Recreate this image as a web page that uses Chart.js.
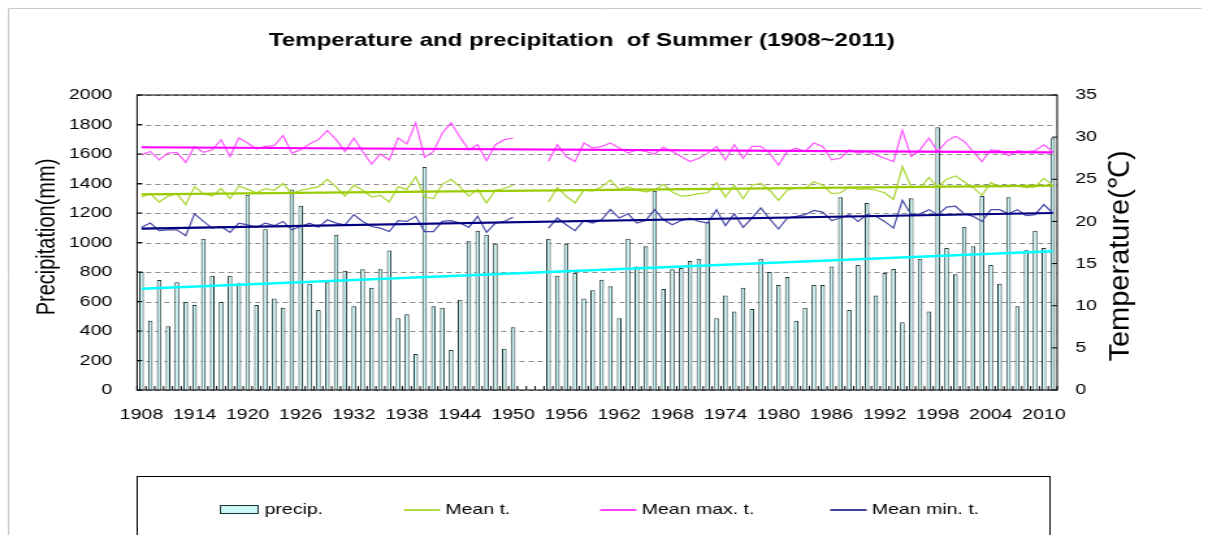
<!DOCTYPE html>
<html>
<head>
<meta charset="utf-8">
<script src="https://cdn.jsdelivr.net/npm/chart.js@4.4.1/dist/chart.umd.min.js"></script>
<style>
html,body{margin:0;padding:0;background:#fff;overflow:hidden}
/* la figura original viene estirada en horizontal */
#wrap{width:929px;height:535px;transform:scaleX(1.3003);transform-origin:0 0}
</style>
</head>
<body>
<div id="wrap"><canvas id="grafica" width="929" height="535"></canvas></div>
<script>
// DATOS
const anios = [
 1908,1909,1910,1911,1912,1913,1914,1915,1916,1917,1918,1919,1920,1921,1922,1923,1924,1925,1926,1927,
 1928,1929,1930,1931,1932,1933,1934,1935,1936,1937,1938,1939,1940,1941,1942,1943,1944,1945,1946,1947,
 1948,1949,1950,1951,1952,1953,1954,1955,1956,1957,1958,1959,1960,1961,1962,1963,1964,1965,1966,1967,
 1968,1969,1970,1971,1972,1973,1974,1975,1976,1977,1978,1979,1980,1981,1982,1983,1984,1985,1986,1987,
 1988,1989,1990,1991,1992,1993,1994,1995,1996,1997,1998,1999,2000,2001,2002,2003,2004,2005,2006,2007,
 2008,2009,2010,2011
].map(String)

const precip = [
 800,470,746,432,730,597,576,1026,775,597,775,723,1324,576,1089,621,558,1360,1250,721,
 542,730,1053,809,567,818,694,818,945,486,513,244,1512,567,558,271,612,1008,1080,1053,
 992,280,425,null,null,null,1026,775,992,793,621,676,748,703,486,1026,838,974,1351,685,
 818,827,875,890,1141,486,640,533,694,549,890,800,712,766,470,558,712,712,838,1306,
 542,848,1268,640,793,820,459,1300,890,533,1781,963,784,1107,974,1315,848,721,1306,567,
 947,1080,963,1706
]

const tmedia = [
 22.9,23.3,22.3,23.0,23.3,22.0,24.1,23.3,23.0,23.9,22.7,24.2,23.8,23.4,23.9,23.7,24.5,23.3,23.7,23.9,
 24.1,25.0,24.1,23.0,24.3,23.7,22.9,23.1,22.3,24.1,23.8,25.3,22.9,22.7,24.4,25.0,24.1,23.0,23.8,22.2,
 23.7,23.9,24.3,null,null,null,22.3,24.0,23.0,22.2,23.7,23.6,24.1,24.9,23.8,24.1,23.7,23.5,23.7,24.4,
 23.5,23.0,23.1,23.3,23.4,24.6,22.9,24.3,22.7,24.3,24.5,23.7,22.5,23.7,24.0,23.9,24.7,24.3,23.3,23.4,
 24.1,23.8,23.9,23.7,23.4,22.6,26.5,24.1,24.0,25.2,24.1,25.0,25.4,24.7,24.0,23.1,24.6,24.1,24.3,24.2,
 24.0,24.1,25.1,24.3
]

const tmax = [
 27.9,28.3,27.3,28.1,28.2,27.0,28.9,28.2,28.5,29.7,27.7,29.9,29.3,28.6,28.9,29.0,30.2,28.1,28.5,29.2,
 29.7,30.8,29.7,28.3,29.9,28.3,26.8,28.0,27.3,29.9,29.2,31.7,27.6,28.3,30.5,31.7,30.0,28.5,29.1,27.2,
 29.1,29.7,29.9,null,null,null,27.1,29.1,27.7,27.1,29.3,28.7,28.9,29.3,28.7,28.1,28.5,28.3,28.0,28.8,
 28.3,27.7,27.1,27.5,28.1,28.9,27.3,29.1,27.5,28.9,28.9,28.1,26.7,28.3,28.7,28.3,29.3,28.9,27.3,27.5,
 28.5,28.1,28.3,27.9,27.5,27.1,30.8,27.7,28.5,29.9,28.3,29.5,30.1,29.5,28.3,27.1,28.5,28.4,27.8,28.4,
 28.3,28.4,29.1,28.3
]

const tmin = [
 19.3,19.8,18.9,19.0,19.0,18.3,20.9,20.0,19.2,19.4,18.7,19.8,19.6,19.3,19.8,19.5,20.0,19.0,19.4,19.8,
 19.3,20.2,19.8,19.6,20.8,20.0,19.4,19.2,18.8,20.1,20.0,20.6,18.8,18.8,20.0,20.1,19.8,19.3,20.6,18.7,
 19.8,20.0,20.5,null,null,null,19.2,20.4,19.6,18.9,20.1,19.8,20.2,21.4,20.4,20.9,19.8,20.1,21.4,20.2,
 19.6,20.1,20.4,20.0,19.8,21.4,19.5,20.9,19.3,20.4,21.6,20.3,19.1,20.4,20.6,20.8,21.3,21.1,20.1,20.4,
 20.8,20.0,20.8,20.6,20.0,19.2,22.5,20.8,20.9,21.4,20.8,21.7,21.8,20.9,20.6,20.0,21.4,21.4,20.9,21.4,
 20.7,20.8,22.0,21.0
]

// tendencias: valor en 1908 y en 2011
const tendPrecip = [687, 940]
const tendMedia = [23.2, 24.25]
const tendMax = [28.8, 28.2]
const tendMin = [19.15, 21.0]

const ticksPrecip = [0,200,400,600,800,1000,1200,1400,1600,1800,2000]
const ticksTemp = [0,5,10,15,20,25,30,35]

const fuente = "'Liberation Sans', Arial, sans-serif"
Chart.defaults.font.family = fuente
Chart.defaults.color = '#000'

function tendencia(par){
    return [{x: anios[0], y: par[0]}, {x: anios[anios.length-1], y: par[1]}]
}

// dibuja rejilla, marco, marcas, titulos y leyenda
const marcoYLeyenda = {
    id: 'marcoYLeyenda',
    beforeDraw(chart){
        const ctx = chart.ctx
        ctx.save()
        ctx.fillStyle = '#fff'
        ctx.fillRect(0, 0, chart.width, chart.height)
        ctx.strokeStyle = '#c8c8c8'
        ctx.lineWidth = 1
        ctx.beginPath()
        ctx.moveTo(6.5, 600); ctx.lineTo(6.5, 8.5); ctx.lineTo(924, 8.5)
        ctx.stroke()
        ctx.restore()
    },
    beforeDatasetsDraw(chart){
        const ctx = chart.ctx
        const a = chart.chartArea
        const sy = chart.scales.y
        ctx.save()
        ctx.strokeStyle = '#8c8c8c'
        ctx.lineWidth = 1
        ctx.setLineDash([4, 3])
        ctx.beginPath()
        sy.ticks.forEach((t, i) => {
            const py = Math.round(sy.getPixelForTick(i)) + 0.5
            ctx.moveTo(a.left, py); ctx.lineTo(a.right, py)
        })
        ctx.stroke()
        ctx.restore()
    },
    afterDraw(chart){
        const ctx = chart.ctx
        const a = chart.chartArea
        const sy = chart.scales.y, sy1 = chart.scales.y1
        ctx.save()
        ctx.strokeStyle = '#000'
        ctx.lineWidth = 1
        ctx.strokeRect(a.left, a.top, a.right - a.left, a.bottom - a.top)
        ctx.beginPath()
        sy.ticks.forEach((t, i) => {
            const py = sy.getPixelForTick(i)
            ctx.moveTo(a.left, py); ctx.lineTo(a.left + 4, py)
        })
        sy1.ticks.forEach((t, i) => {
            const py = sy1.getPixelForTick(i)
            ctx.moveTo(a.right, py); ctx.lineTo(a.right - 4, py)
        })
        const n = chart.data.labels.length
        const w = (a.right - a.left) / n
        for(let i = 0; i <= n; i++){
            const px = a.left + i * w
            ctx.moveTo(px, a.bottom); ctx.lineTo(px, a.bottom - 4)
        }
        ctx.stroke()

        // titulo
        ctx.fillStyle = '#000'
        ctx.textAlign = 'center'
        ctx.textBaseline = 'middle'
        ctx.font = 'bold 18.5px ' + fuente
        ctx.fillText('Temperature and precipitation  of Summer (1908~2011)', 447.5, 40.5)

        // titulos de ejes
        ctx.save()
        ctx.translate(36.5, 237)
        ctx.rotate(-Math.PI / 2)
        ctx.font = '20px ' + fuente
        ctx.fillText('Precipitation(mm)', 0, 0)
        ctx.restore()
        ctx.save()
        ctx.translate(862, 256)
        ctx.rotate(-Math.PI / 2)
        ctx.scale(1.16, 0.88)
        ctx.font = '25px ' + fuente
        ctx.fillText('Temperature(℃)', 0, 0)
        ctx.restore()

        // leyenda
        ctx.strokeStyle = '#000'
        ctx.strokeRect(105.5, 476.5, 702, 80)
        ctx.font = '15px ' + fuente
        ctx.textAlign = 'left'
        ctx.fillStyle = '#ccf6f6'
        ctx.fillRect(169.5, 505.5, 29, 8)
        ctx.strokeStyle = '#1e3333'
        ctx.strokeRect(169.5, 505.5, 29, 8)
        ctx.fillStyle = '#000'
        ctx.fillText('precip.', 203.5, 510)
        const items = [
            ['Mean t.', '#99cc00', 310.5],
            ['Mean max. t.', '#ff00ff', 461.5],
            ['Mean min. t.', '#000080', 638.5]
        ]
        items.forEach(it => {
            ctx.strokeStyle = it[1]
            ctx.lineWidth = 1.5
            ctx.beginPath()
            ctx.moveTo(it[2], 510); ctx.lineTo(it[2] + 28, 510)
            ctx.stroke()
            ctx.fillText(it[0], it[2] + 32, 510)
        })
        ctx.restore()
    }
}

const grafica = new Chart(document.getElementById('grafica'), {
    data: {
        labels: anios,
        datasets: [
            {
                type: 'line', label: 'precip. trend', data: tendencia(tendPrecip), yAxisID: 'y',
                borderColor: '#00ffff', borderWidth: 2.5, pointRadius: 0, order: 1
            },
            {
                type: 'line', label: 'Mean max. t.', data: tmax, yAxisID: 'y1',
                borderColor: '#ff55ff', borderWidth: 1.2, pointRadius: 0, spanGaps: false, order: 2
            },
            {
                type: 'line', label: 'Mean t.', data: tmedia, yAxisID: 'y1',
                borderColor: '#a8d630', borderWidth: 1.2, pointRadius: 0, spanGaps: false, order: 2
            },
            {
                type: 'line', label: 'Mean min. t.', data: tmin, yAxisID: 'y1',
                borderColor: '#4a4aa8', borderWidth: 1.2, pointRadius: 0, spanGaps: false, order: 2
            },
            {
                type: 'line', label: 'max trend', data: tendencia(tendMax), yAxisID: 'y1',
                borderColor: '#ff00ff', borderWidth: 2.2, pointRadius: 0, order: 1
            },
            {
                type: 'line', label: 'mean trend', data: tendencia(tendMedia), yAxisID: 'y1',
                borderColor: '#99cc00', borderWidth: 2.2, pointRadius: 0, order: 1
            },
            {
                type: 'line', label: 'min trend', data: tendencia(tendMin), yAxisID: 'y1',
                borderColor: '#000080', borderWidth: 2.2, pointRadius: 0, order: 1
            },
            {
                type: 'bar', label: 'precip.', data: precip, yAxisID: 'y',
                backgroundColor: '#ccf6f6', borderColor: '#1e3333', borderWidth: 1,
                barPercentage: 0.52, categoryPercentage: 1, order: 5
            }
        ]
    },
    options: {
        responsive: false,
        animation: false,
        layout: { padding: { top: 95, left: 0, right: 0, bottom: 0 } },
        plugins: {
            legend: { display: false },
            title: { display: false },
            tooltip: { enabled: false }
        },
        scales: {
            x: {
                type: 'category',
                offset: true,
                grid: { display: false, drawTicks: false },
                border: { display: false },
                afterFit: s => { s.height = 145 },
                ticks: {
                    autoSkip: false, maxRotation: 0, minRotation: 0, padding: 16,
                    font: { size: 15 },
                    callback: function(val, i){ return i % 6 === 0 ? anios[i] : '' }
                }
            },
            y: {
                position: 'left', min: 0, max: 2000,
                afterFit: s => { s.width = 105.4 },
                afterBuildTicks: s => { s.ticks = ticksPrecip.map(v => ({ value: v })) },
                grid: { display: false, drawTicks: false },
                border: { display: false },
                ticks: { padding: 19, font: { size: 15 }, callback: v => String(v) }
            },
            y1: {
                position: 'right', min: 0, max: 35,
                afterFit: s => { s.width = 116 },
                afterBuildTicks: s => { s.ticks = ticksTemp.map(v => ({ value: v })) },
                grid: { display: false, drawTicks: false },
                border: { display: false },
                ticks: { padding: 14, font: { size: 15 }, callback: v => String(v) }
            }
        }
    },
    plugins: [marcoYLeyenda]
})
</script>
</body>
</html>
